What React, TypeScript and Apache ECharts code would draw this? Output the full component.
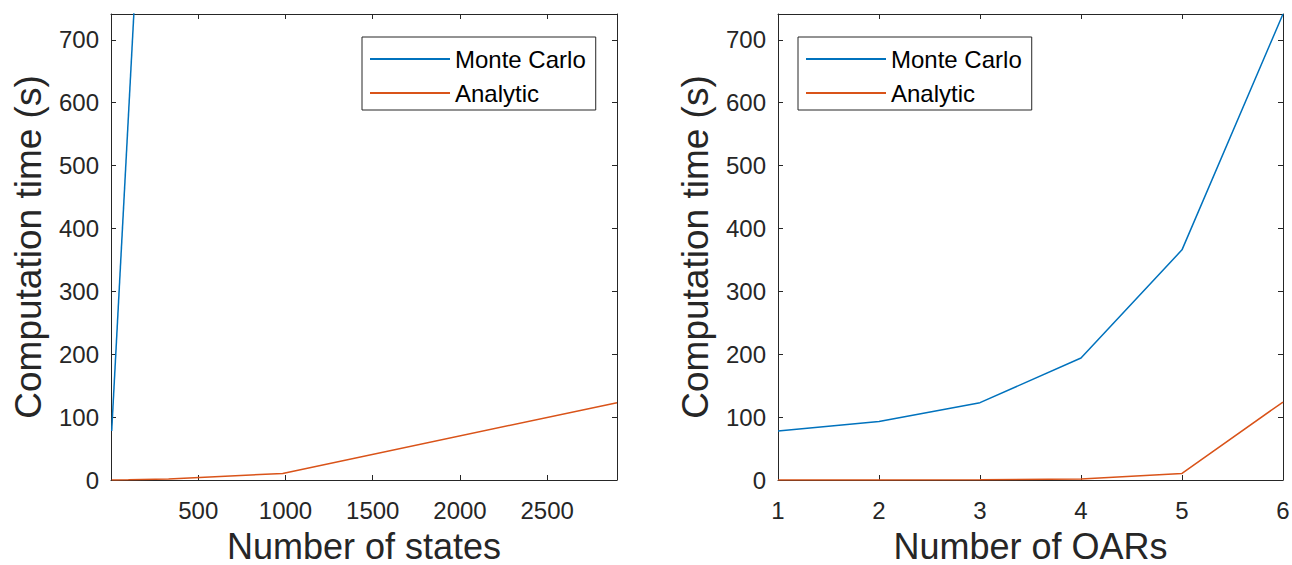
import React, { useEffect, useRef } from "react";
import * as echarts from "echarts";

// Left panel: computation time vs number of states
const mcStates = [4, 150];
const mcStatesTime = [78, 841];
const anStates = [4, 30, 100, 330, 984, 2900];
const anStatesTime = [0, 0, 0.2, 1.6, 10.5, 123];

// Right panel: computation time vs number of OARs
const oars = [1, 2, 3, 4, 5, 6];
const mcOarTime = [78, 93, 123, 194, 366, 741];
const anOarTime = [0, 0, 0.2, 1.6, 10.5, 124];

const seriesNames = ["Monte Carlo", "Analytic"];
const yTitle = "Computation time (s)";
const xTitles = ["Number of states", "Number of OARs"];

const FONT = "'Liberation Sans', Arial, Helvetica, sans-serif";
const AX = "#262626";
const C_MC = "#0072BD";
const C_AN = "#D95319";

export default function App() {
  const ref = useRef<HTMLDivElement>(null);
  useEffect(() => {
    if (!ref.current) return;
    const chart = echarts.init(ref.current, undefined, { renderer: "svg" });
    const grids = [
      { left: 111, top: 14, width: 506, height: 466, outerBoundsMode: "none", containLabel: false },
      { left: 778, top: 14, width: 505, height: 466, outerBoundsMode: "none", containLabel: false },
    ];
    const xRanges = [
      { min: 0, max: 2900, interval: 500 },
      { min: 1, max: 6, interval: 1 },
    ];
    const yRange = { min: 0, max: 741, interval: 100 };
    const lineStyle = { color: AX, width: 1 };
    const tick = { show: true, inside: true, length: 5, lineStyle };
    const plain = (v: number) => String(v);
    const xAxis: any[] = [];
    const yAxis: any[] = [];
    for (let g = 0; g < 2; g++) {
      xAxis.push({
        type: "value",
        gridIndex: g,
        position: "bottom",
        ...xRanges[g],
        name: xTitles[g],
        nameLocation: "middle",
        nameGap: 48,
        nameTextStyle: { fontFamily: FONT, fontSize: 36, lineHeight: 36, color: AX },
        axisLine: { show: true, lineStyle },
        axisTick: tick,
        splitLine: { show: false },
        axisLabel: {
          fontFamily: FONT,
          fontSize: 24,
          color: AX,
          margin: 18,
          formatter: plain,
          showMinLabel: g === 1,
          showMaxLabel: g === 1,
        },
      });
      xAxis.push({
        type: "value",
        gridIndex: g,
        position: "top",
        ...xRanges[g],
        axisLine: { show: true, onZero: false, lineStyle },
        axisTick: tick,
        splitLine: { show: false },
        axisLabel: { show: false },
      });
      yAxis.push({
        type: "value",
        gridIndex: g,
        position: "left",
        ...yRange,
        name: yTitle,
        nameLocation: "middle",
        nameGap: 64,
        nameTextStyle: { fontFamily: FONT, fontSize: 37, color: AX },
        axisLine: { show: true, lineStyle },
        axisTick: tick,
        splitLine: { show: false },
        axisLabel: {
          fontFamily: FONT,
          fontSize: 24,
          color: AX,
          margin: 12,
          formatter: plain,
          showMaxLabel: false,
        },
      });
      yAxis.push({
        type: "value",
        gridIndex: g,
        position: "right",
        ...yRange,
        axisLine: { show: true, onZero: false, lineStyle },
        axisTick: tick,
        splitLine: { show: false },
        axisLabel: { show: false },
      });
    }
    const mk = (name: string, color: string, data: number[][], g: number) => ({
      type: "line",
      name,
      xAxisIndex: g * 2,
      yAxisIndex: g * 2,
      data,
      showSymbol: false,
      symbol: "none",
      clip: true,
      lineStyle: { color, width: 1.5 },
      itemStyle: { color },
    });
    const zip = (a: number[], b: number[]) => a.map((v, i) => [v, b[i]]);
    const legendBase = {
      orient: "vertical",
      top: 37,
      icon: "rect",
      itemWidth: 80,
      itemHeight: 2,
      itemGap: 10,
      padding: [10, 10, 5, 8],
      borderColor: AX,
      borderWidth: 1,
      borderRadius: 0,
      backgroundColor: "#fff",
      textStyle: { fontFamily: FONT, fontSize: 24, color: "#000" },
      data: seriesNames,
    };
    chart.setOption({
      animation: false,
      backgroundColor: "#fff",
      grid: grids,
      xAxis,
      yAxis,
      legend: [
        { ...legendBase, left: 362 },
        { ...legendBase, left: 798 },
      ],
      series: [
        mk(seriesNames[0], C_MC, zip(mcStates, mcStatesTime), 0),
        mk(seriesNames[1], C_AN, zip(anStates, anStatesTime), 0),
        mk(seriesNames[0], C_MC, zip(oars, mcOarTime), 1),
        mk(seriesNames[1], C_AN, zip(oars, anOarTime), 1),
      ],
    });
    return () => chart.dispose();
  }, []);
  return (
    <div
      ref={ref}
      style={{ position: "fixed", left: 0, top: 0, width: 1292, height: 565 }}
    />
  );
}
